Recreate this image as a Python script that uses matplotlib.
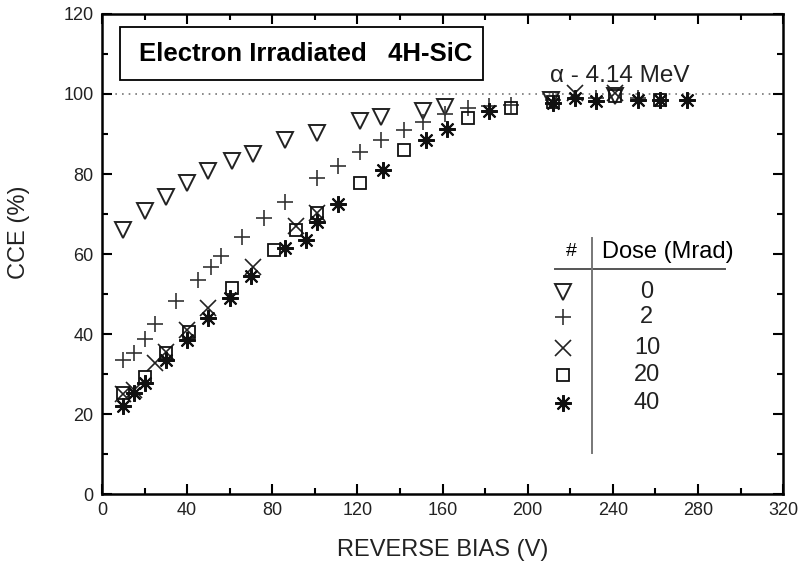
import matplotlib
matplotlib.use('Agg')
import matplotlib.pyplot as plt
from matplotlib.patches import Rectangle
from matplotlib.ticker import MultipleLocator

# data: bias (V) and CCE (%) per dose
tri_v = [10, 20, 30, 40, 50, 61, 71, 86, 101, 121, 131, 151, 161, 211, 241]
tri_cce = [66, 70.7, 74.3, 77.8, 80.8, 83.3, 84.9, 88.6, 90.3, 93.2, 94.2, 95.8, 96.8, 98.4, 99.6]

plus_v = [10, 15, 20, 25, 35, 45, 51, 56, 66, 76, 86, 101, 111, 121, 131, 142, 151, 161, 172, 182, 192, 212, 232, 252]
plus_cce = [33.5, 35.2, 38.8, 42.5, 48.2, 53.5, 56.8, 59.5, 64.2, 69.0, 73.0, 78.9, 82.0, 85.4, 88.5,
            91.0, 93.0, 95.0, 96.4, 97.0, 97.3, 98.5, 99.0, 99.0]

x_v = [10, 15, 25, 30, 40, 50, 71, 91, 101, 222, 241]
x_cce = [25.0, 26.0, 32.7, 35.6, 41.0, 46.6, 56.8, 67.0, 70.2, 100.3, 100.2]

sq_v = [10, 20, 30, 41, 61, 81, 91, 101, 121, 142, 172, 192, 212, 241, 262]
sq_cce = [25.2, 29.3, 35.3, 40.6, 51.4, 61.0, 66.0, 70.2, 77.8, 86.0, 94.0, 96.6, 98.0, 99.6, 98.6]

star_v = [10, 15, 20, 30, 40, 50, 60, 70, 86, 96, 101, 111, 132, 152, 162, 182, 212, 222, 232, 252, 262, 275]
star_cce = [22.0, 25.2, 27.7, 33.5, 38.5, 43.9, 48.9, 54.5, 61.6, 63.4, 68.0, 72.5, 81.0, 88.6, 91.2,
            95.8, 97.8, 98.9, 98.3, 98.4, 98.5, 98.5]

doses = ['0', '2', '10', '20', '40']

plain = ['Liberation Sans', 'DejaVu Sans']

star = (8, 2, 0)
styles = [
    dict(marker='v', ms=11, mfc='none', mec='#222222', mew=1.4),
    dict(marker='+', ms=11, mec='#333333', mew=1.2),
    dict(marker='x', ms=11, mec='#222222', mew=1.2),
    dict(marker='s', ms=8.5, mfc='none', mec='#111111', mew=1.3),
    dict(marker=star, ms=12, mec='#111111', mew=1.5),
]

fig = plt.figure(figsize=(8.08, 5.69), dpi=100)
ax = fig.add_axes([0.1262, 0.1318, 0.843, 0.8436])

series = [(tri_v, tri_cce), (plus_v, plus_cce), (x_v, x_cce), (sq_v, sq_cce), (star_v, star_cce)]
for (v, c), st in zip(series, styles):
    ax.plot(v, c, ls='none', **st)

ax.axhline(100, ls=(0, (1, 3)), color='#777777', lw=1.2, zorder=0)

ax.set_xlim(0, 320)
ax.set_ylim(0, 120)
ax.xaxis.set_major_locator(MultipleLocator(40))
ax.xaxis.set_minor_locator(MultipleLocator(20))
ax.yaxis.set_major_locator(MultipleLocator(20))
ax.yaxis.set_minor_locator(MultipleLocator(10))
ax.tick_params(which='both', direction='in', top=True, right=True, width=1.5)
ax.tick_params(which='major', length=7, labelsize=13, labelcolor='#222222', pad=6)
ax.tick_params(which='minor', length=4)
for lab in ax.get_xticklabels() + ax.get_yticklabels():
    lab.set_family(plain)
for s in ax.spines.values():
    s.set_linewidth(1.8)

ax.set_xlabel('REVERSE BIAS (V)', family=plain, fontsize=17, color='#222222', labelpad=14)
ax.set_ylabel('CCE (%)', family=plain, fontsize=17, color='#222222')
ax.yaxis.set_label_coords(-0.105, 0.546)

# title box
ax.add_patch(Rectangle((0.026, 0.8625), 0.5335, 0.1105, transform=ax.transAxes,
                       fill=False, ec='black', lw=1.3))
ax.text(0.2988, 0.9177, 'Electron Irradiated   4H-SiC', transform=ax.transAxes,
        ha='center', va='center', family=plain, fontweight='bold', fontsize=18.5)
ax.text(0.7607, 0.871, 'α - 4.14 MeV', transform=ax.transAxes,
        ha='center', va='center', family=plain, fontsize=17.5, color='#222222')

# dose table
ax.text(0.6897, 0.5048, '#', transform=ax.transAxes, ha='center', va='center',
        family=plain, fontsize=14)
ax.text(0.831, 0.5048, 'Dose (Mrad)', transform=ax.transAxes, ha='center', va='center',
        family=plain, fontsize=17)
ax.plot([0.665, 0.915], [0.4688, 0.4688], transform=ax.transAxes, color='#555555', lw=1.4)
ax.plot([0.7195, 0.7195], [0.0854, 0.5333], transform=ax.transAxes, color='#777777', lw=1.4)
rows = [0.4215, 0.3694, 0.3048, 0.2479, 0.1896]
for y, d, st in zip(rows, doses, styles):
    ax.plot([0.677], [y], transform=ax.transAxes, ls='none', **st)
    ax.text(0.800, y, d, transform=ax.transAxes, ha='center', va='center',
            family=plain, fontsize=17, color='#222222')

fig.savefig('out.png', dpi=100)
